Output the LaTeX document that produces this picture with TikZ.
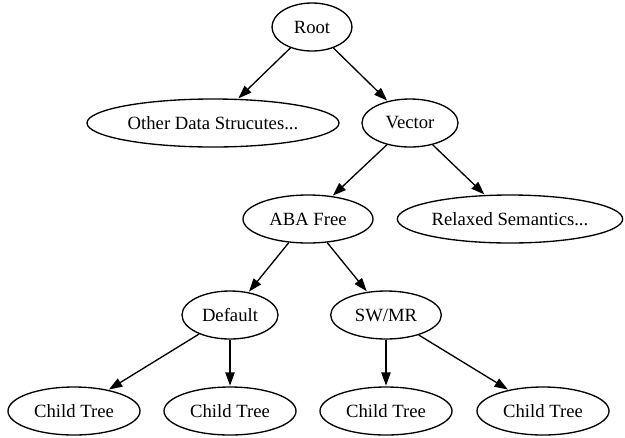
\documentclass[tikz,border=0pt]{standalone}
\usepackage{fontspec}
\setmainfont{Liberation Serif}
\usetikzlibrary{shapes.geometric,arrows.meta}
\begin{document}
\begin{tikzpicture}[x=0.75pt,y=-0.75pt,
  gnode/.style={draw=black,line width=1pt,ellipse,inner sep=0pt,minimum height=36pt,font=\fontsize{14pt}{16pt}\selectfont},
  gedge/.style={draw=black,line width=1pt,-{Triangle[length=10pt,width=7pt]},shorten >=0.5pt}]
\useasboundingbox (0,0) rectangle (625,437);
\node[gnode,minimum width=60pt] (root) at (312,27) {Root};
\node[gnode,minimum width=189pt] (other) at (213,123) {Other Data Strucutes...};
\node[gnode,minimum width=72pt] (vector) at (410,123) {Vector};
\node[gnode,minimum width=97.5pt] (aba) at (308,219) {ABA Free};
\node[gnode,minimum width=169pt] (relaxed) at (510,219) {Relaxed Semantics...};
\node[gnode,minimum width=72pt] (default) at (230,315) {Default};
\node[gnode,minimum width=83pt] (swmr) at (386,315) {SW/MR};
\node[gnode,minimum width=99pt] (c1) at (74,411) {Child Tree};
\node[gnode,minimum width=99pt] (c2) at (230,411) {Child Tree};
\node[gnode,minimum width=99pt] (c3) at (386,411) {Child Tree};
\node[gnode,minimum width=99pt] (c4) at (543,411) {Child Tree};
\draw[gedge] (root) -- (other);
\draw[gedge] (root) -- (vector);
\draw[gedge] (vector) -- (aba);
\draw[gedge] (vector) -- (relaxed);
\draw[gedge] (aba) -- (default);
\draw[gedge] (aba) -- (swmr);
\draw[gedge] (default) -- (c1);
\draw[gedge] (default) -- (c2);
\draw[gedge] (swmr) -- (c3);
\draw[gedge] (swmr) -- (c4);
\end{tikzpicture}
\end{document}
